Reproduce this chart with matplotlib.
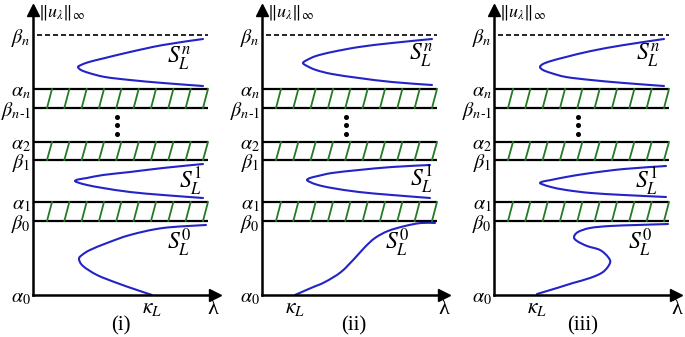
import matplotlib
matplotlib.use('Agg')
import matplotlib.pyplot as plt
import numpy as np
from matplotlib.path import Path
from matplotlib.patches import PathPatch

plt.rcParams['mathtext.fontset'] = 'stix'
plt.rcParams['font.family'] = ['Liberation Serif', 'DejaVu Serif']

# ---------------- data ----------------
level_labels = [r'$\alpha_0$', r'$\beta_0$', r'$\alpha_1$', r'$\beta_1$',
                r'$\alpha_2$', r'$\beta_{n\text{-}1}$', r'$\alpha_n$', r'$\beta_n$']
level_values = [0, 74, 93, 135, 153, 187, 206, 260]
band_pairs = [(1, 2), (3, 4), (5, 6)]   # (beta_k, alpha_{k+1}) hatched bands

panel_names = ['(i)', '(ii)', '(iii)']
kappa_values = [119, 33, 43]

# S_L^n branches
sn_x = [
    [170, 130, 97, 72, 56, 48, 45, 48, 56, 72, 97, 130, 170],
    [170, 130, 97, 70, 54, 45, 41, 45, 54, 70, 97, 130, 170],
    [170, 130, 97, 72, 57, 49, 46, 49, 57, 72, 97, 130, 170],
]
sn_y = [
    [256, 250, 243, 237, 233, 230, 228, 225, 222, 218, 215, 212, 209],
    [256, 252, 248, 243, 239, 235, 232, 229, 225, 221, 217, 213, 210],
    [256, 250, 244, 238, 234, 231, 228, 225, 222, 218, 215, 212, 209],
]
# S_L^1 branches
s1_x = [
    [170, 130, 97, 70, 54, 45, 42, 45, 54, 70, 97, 130, 170],
    [168, 130, 97, 70, 56, 48, 45, 48, 56, 70, 97, 130, 168],
    [172, 130, 97, 72, 57, 49, 46, 49, 57, 72, 97, 130, 172],
]
s1_y = [
    [131, 127, 123, 120, 117, 115.5, 114, 112.5, 110, 107, 103, 100, 97],
    [130, 128, 125, 122, 119, 117, 115, 113, 110, 107, 103, 100, 97],
    [129, 126, 122, 118, 115, 113.5, 112, 110.5, 108, 105, 102, 100, 98],
]
# S_L^0 branches
s0_x = [
    [173, 130, 97, 74, 57, 49, 46, 50, 64, 84, 104, 119],
    [173, 159, 143, 126, 113, 103, 93, 79, 63, 49, 33],
    [174, 143, 116, 96, 84, 80, 83, 93, 106, 114, 116, 109, 96, 79, 63, 43],
]
s0_y = [
    [70, 67, 60, 52, 45, 40, 36, 29, 20, 12, 5, 0],
    [72, 72, 69, 64, 57, 48, 37, 23, 13, 7, 0],
    [71, 70, 69, 67, 63, 58, 54, 49, 45, 38, 32, 23, 17, 12, 7, 1],
]


def smooth_path(xs, ys):
    """Smooth curve through the read points (Catmull-Rom drawn as Bezier)."""
    P = np.column_stack([xs, ys]).astype(float)
    n = len(P)
    verts = [P[0]]
    codes = [Path.MOVETO]
    for i in range(n - 1):
        p0 = P[i - 1] if i > 0 else P[i]
        p1, p2 = P[i], P[i + 1]
        p3 = P[i + 2] if i + 2 < n else P[i + 1]
        verts += [p1 + (p2 - p0) / 6, p2 - (p3 - p1) / 6, p2]
        codes += [Path.CURVE4] * 3
    return Path(verts, codes)


# ---------------- drawing ----------------
W, H = 685, 337
origins_px = [33, 262, 494]
fig = plt.figure(figsize=(W / 100, H / 100), dpi=100)

blue = '#2323c8'
green = '#247a24'
line_end = 175

S_lbl_pos = [
    [(146, 237), (158, 113), (146, 52)],
    [(159, 240), (160, 115), (135, 52)],
    [(154, 240), (153, 113), (146, 52)],
]
lam_x = [180, 182, 183]
name_x = [88, 92, 89]

for p in range(3):
    ax = fig.add_axes([origins_px[p] / W, (H - 295) / H, 182 / W, 285 / H])
    ax.set_xlim(0, 182)
    ax.set_ylim(0, 285)
    for s in ['top', 'right']:
        ax.spines[s].set_visible(False)
    for s in ['left', 'bottom']:
        ax.spines[s].set_linewidth(1.8)
    ax.plot([0], [1], marker='^', ms=8, color='k', transform=ax.transAxes, clip_on=False)
    ax.plot([1], [0], marker='>', ms=8, color='k', transform=ax.transAxes, clip_on=False)

    ax.set_yticks(level_values)
    ax.set_yticklabels(level_labels, fontsize=14.5)
    ax.set_xticks([kappa_values[p]])
    ax.set_xticklabels([r'$\kappa_L$'], fontsize=15.5)
    ax.tick_params(length=0, pad=1.5)
    ax.tick_params(axis='x', pad=3)

    # hatched bands
    for lo, hi in band_pairs:
        y0, y1 = level_values[lo], level_values[hi]
        ax.plot([0, line_end], [y0, y0], color='k', lw=1.6, solid_capstyle='butt')
        ax.plot([0, line_end], [y1, y1], color='k', lw=1.6, solid_capstyle='butt')
        for xb in np.linspace(14, 170, 10):
            ax.plot([xb, xb + 5], [y0, y1], color=green, lw=1.3)

    # dashed beta_n
    yb = level_values[-1]
    ax.plot([4, line_end], [yb, yb], color='k', lw=1.2, ls=(0, (3, 1.8)))

    # vertical dots
    ymid_lo, ymid_hi = level_values[4], level_values[5]
    dy = (ymid_hi - ymid_lo)
    ax.plot([84] * 3, [ymid_lo + dy * 0.25, ymid_lo + dy * 0.5, ymid_lo + dy * 0.75],
            ls='none', marker='o', ms=2.6, color='k')

    # curves
    for xs, ys in [(sn_x[p], sn_y[p]), (s1_x[p], s1_y[p]), (s0_x[p], s0_y[p])]:
        ax.add_patch(PathPatch(smooth_path(xs, ys), facecolor='none', edgecolor=blue,
                               lw=1.5, capstyle='round', joinstyle='round'))

    for (lx, ly), sup in zip(S_lbl_pos[p], ['n', '1', '0']):
        ax.text(lx, ly, r'$S_L^{%s}$' % sup, fontsize=17, ha='center', va='center')

    ax.text(5, 283, r'$\Vert u_\lambda\Vert_\infty$', fontsize=13, ha='left', va='center', clip_on=False)
    ax.text(lam_x[p], -15, 'λ', fontsize=16, ha='center', va='center', clip_on=False)
    ax.text(name_x[p], -31, panel_names[p], fontsize=15, ha='center', va='center', clip_on=False)

fig.savefig('out.png', dpi=100)
